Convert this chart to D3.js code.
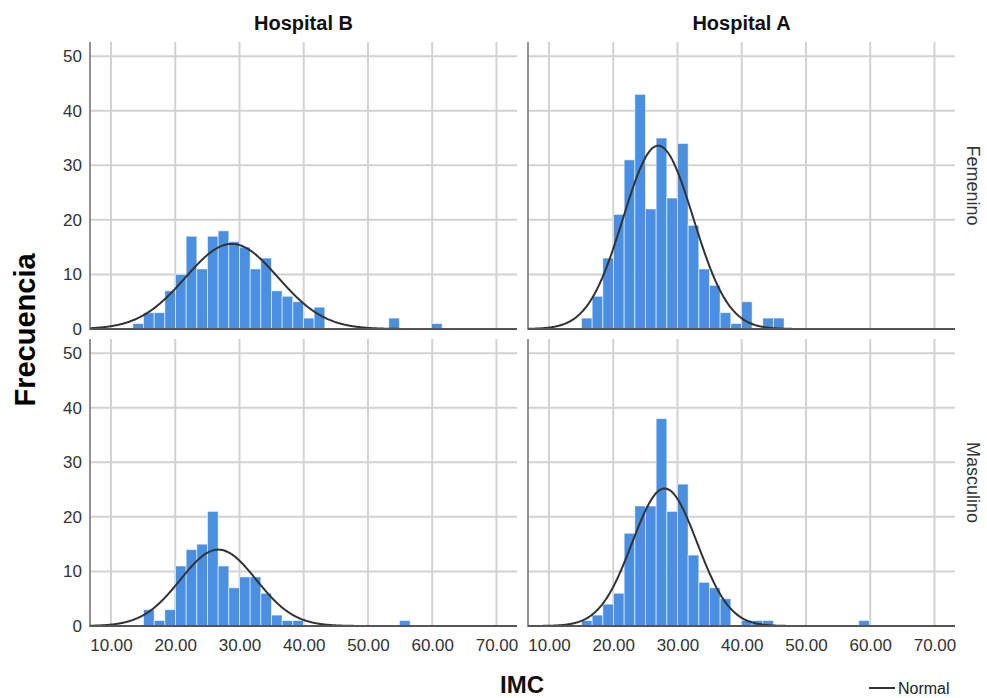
<!DOCTYPE html>
<html>
<head>
<meta charset="utf-8">
<script src="https://cdn.jsdelivr.net/npm/d3@7"></script>
<style>
  html, body { margin: 0; padding: 0; background: #fff; }
  svg { display: block; font-family: "Liberation Sans", Arial, sans-serif; }
</style>
</head>
<body>
<svg id="chart" width="987" height="698"></svg>
<script>
// Facet categories
const hospitals = ["Hospital B", "Hospital A"];   // columns
const sexes = ["Femenino", "Masculino"];          // rows

// Histogram bins (IMC)
const binStart = 13.4;
const binWidth = 1.66;

// Frequencies per bin, one array per panel
const countsFemeninoB  = [1, 3, 3, 7, 10, 17, 11, 17, 18, 16, 15, 11, 13, 7, 6, 5, 2, 4, 0, 0, 0, 0, 0, 0, 2, 0, 0, 0, 1];
const countsFemeninoA  = [0, 2, 6, 13, 21, 31, 43, 22, 35, 24, 34, 19, 11, 8, 3, 1, 5, 0, 2, 2];
const countsMasculinoB = [0, 3, 1, 3, 11, 14, 15, 21, 11, 7, 9, 9, 6, 2, 1, 1, 0, 0, 0, 0, 0, 0, 0, 0, 0, 1];
const countsMasculinoA = [0, 1, 2, 4, 6, 17, 22, 22, 38, 21, 26, 13, 8, 7, 5, 0, 1, 1, 1, 0, 0, 0, 0, 0, 0, 0, 0, 1];

// Normal curve overlay per panel (order: Fem B, Fem A, Masc B, Masc A)
const normalMean = [28.8, 27.0, 26.7, 28.0];
const normalSD   = [7.2, 5.45, 5.9, 5.05];
const normalPeak = [15.6, 33.6, 14.0, 25.2];

// Axis ticks
const xTicks = [10, 20, 30, 40, 50, 60, 70];
const yTicks = [0, 10, 20, 30, 40, 50];

const panelCounts = [countsFemeninoB, countsFemeninoA, countsMasculinoB, countsMasculinoA];

// Layout
const colX0 = [90, 528];
const rowY0 = [42, 339];
const panelW = 427;
const panelH = 287;
const xDomain = [6.73, 73.2];
const yDomain = [0, 52.6];

const svg = d3.select("#chart");

const barColor = "#4a8fe0";
const gridColor = "#d2d2d2";

sexes.forEach((sex, row) => {
  hospitals.forEach((hosp, col) => {
    const p = row * 2 + col;
    const x0 = colX0[col], y0 = rowY0[row];
    const x = d3.scaleLinear().domain(xDomain).range([x0, x0 + panelW]);
    const y = d3.scaleLinear().domain(yDomain).range([y0 + panelH, y0]);
    const g = svg.append("g").attr("class", "panel");

    // grid
    g.append("g").selectAll("line.vg").data(xTicks).join("line")
      .attr("x1", d => x(d)).attr("x2", d => x(d))
      .attr("y1", y0).attr("y2", y(0))
      .attr("stroke", gridColor).attr("stroke-width", 2);
    g.append("g").selectAll("line.hg").data(yTicks.filter(d => d > 0)).join("line")
      .attr("x1", x0).attr("x2", x0 + panelW)
      .attr("y1", d => y(d)).attr("y2", d => y(d))
      .attr("stroke", gridColor).attr("stroke-width", 2);

    // bars
    const bins = panelCounts[p].map((c, i) => ({
      lo: binStart + i * binWidth,
      hi: binStart + (i + 1) * binWidth,
      c
    })).filter(b => b.c > 0);
    g.append("g").selectAll("rect").data(bins).join("rect")
      .attr("x", d => x(d.lo))
      .attr("width", d => x(d.hi) - x(d.lo))
      .attr("y", d => y(d.c))
      .attr("height", d => y(0) - y(d.c))
      .attr("fill", barColor)
      .attr("stroke", "#ffffff")
      .attr("stroke-opacity", 0.55)
      .attr("stroke-width", 1);

    // normal curve
    const m = normalMean[p], s = normalSD[p], pk = normalPeak[p];
    const pts = d3.range(xDomain[0], xDomain[1] + 0.001, 0.1)
      .map(v => [v, pk * Math.exp(-((v - m) * (v - m)) / (2 * s * s))]);
    g.append("path")
      .attr("d", d3.line().x(d => x(d[0])).y(d => y(d[1])).curve(d3.curveBasis)(pts))
      .attr("fill", "none")
      .attr("stroke", "#333")
      .attr("stroke-width", 2);

    // axis lines
    g.append("line")
      .attr("x1", x0).attr("x2", x0).attr("y1", y0).attr("y2", y(0) + 1)
      .attr("stroke", "#777").attr("stroke-width", 1.6);
    g.append("line")
      .attr("x1", x0).attr("x2", x0 + panelW).attr("y1", y(0)).attr("y2", y(0))
      .attr("stroke", "#555").attr("stroke-width", 2);

    // y tick labels on the left column
    if (col === 0) {
      const ya = g.append("g").attr("transform", `translate(${x0},0)`)
        .call(d3.axisLeft(y).tickValues(yTicks).tickSize(0).tickPadding(8).tickFormat(d3.format("d")));
      ya.select(".domain").remove();
      ya.selectAll("text").attr("font-size", 17).attr("fill", "#333")
        .attr("font-family", "'Liberation Sans', Arial, sans-serif");
    }

    // x tick labels on the bottom row
    if (row === 1) {
      const xa = g.append("g").attr("transform", `translate(0,${y(0)})`)
        .call(d3.axisBottom(x).tickValues(xTicks).tickSize(0).tickPadding(13).tickFormat(d3.format(".2f")));
      xa.select(".domain").remove();
      xa.selectAll("text").attr("font-size", 17).attr("fill", "#333")
        .attr("font-family", "'Liberation Sans', Arial, sans-serif");
    }

    // column titles
    if (row === 0) {
      svg.append("text")
        .attr("x", x0 + panelW / 2).attr("y", 30)
        .attr("text-anchor", "middle")
        .attr("font-size", 20).attr("font-weight", "bold").attr("fill", "#111")
        .text(hosp);
    }

    // row labels
    if (col === 1) {
      svg.append("text")
        .attr("transform", `translate(967,${y0 + panelH / 2}) rotate(90)`)
        .attr("text-anchor", "middle")
        .attr("font-size", 18).attr("fill", "#333")
        .text(sex);
    }
  });
});

// axis titles
svg.append("text")
  .attr("transform", "translate(35,330) rotate(-90)")
  .attr("text-anchor", "middle")
  .attr("font-size", 29).attr("font-weight", "bold").attr("fill", "#000")
  .text("Frecuencia");

svg.append("text")
  .attr("x", 522).attr("y", 693)
  .attr("text-anchor", "middle")
  .attr("font-size", 24).attr("font-weight", "bold").attr("fill", "#111")
  .text("IMC");

// legend
svg.append("line")
  .attr("x1", 869).attr("x2", 895).attr("y1", 688).attr("y2", 688)
  .attr("stroke", "#333").attr("stroke-width", 2);
svg.append("text")
  .attr("x", 898).attr("y", 694)
  .attr("font-size", 16).attr("fill", "#222")
  .text("Normal");
</script>
</body>
</html>
